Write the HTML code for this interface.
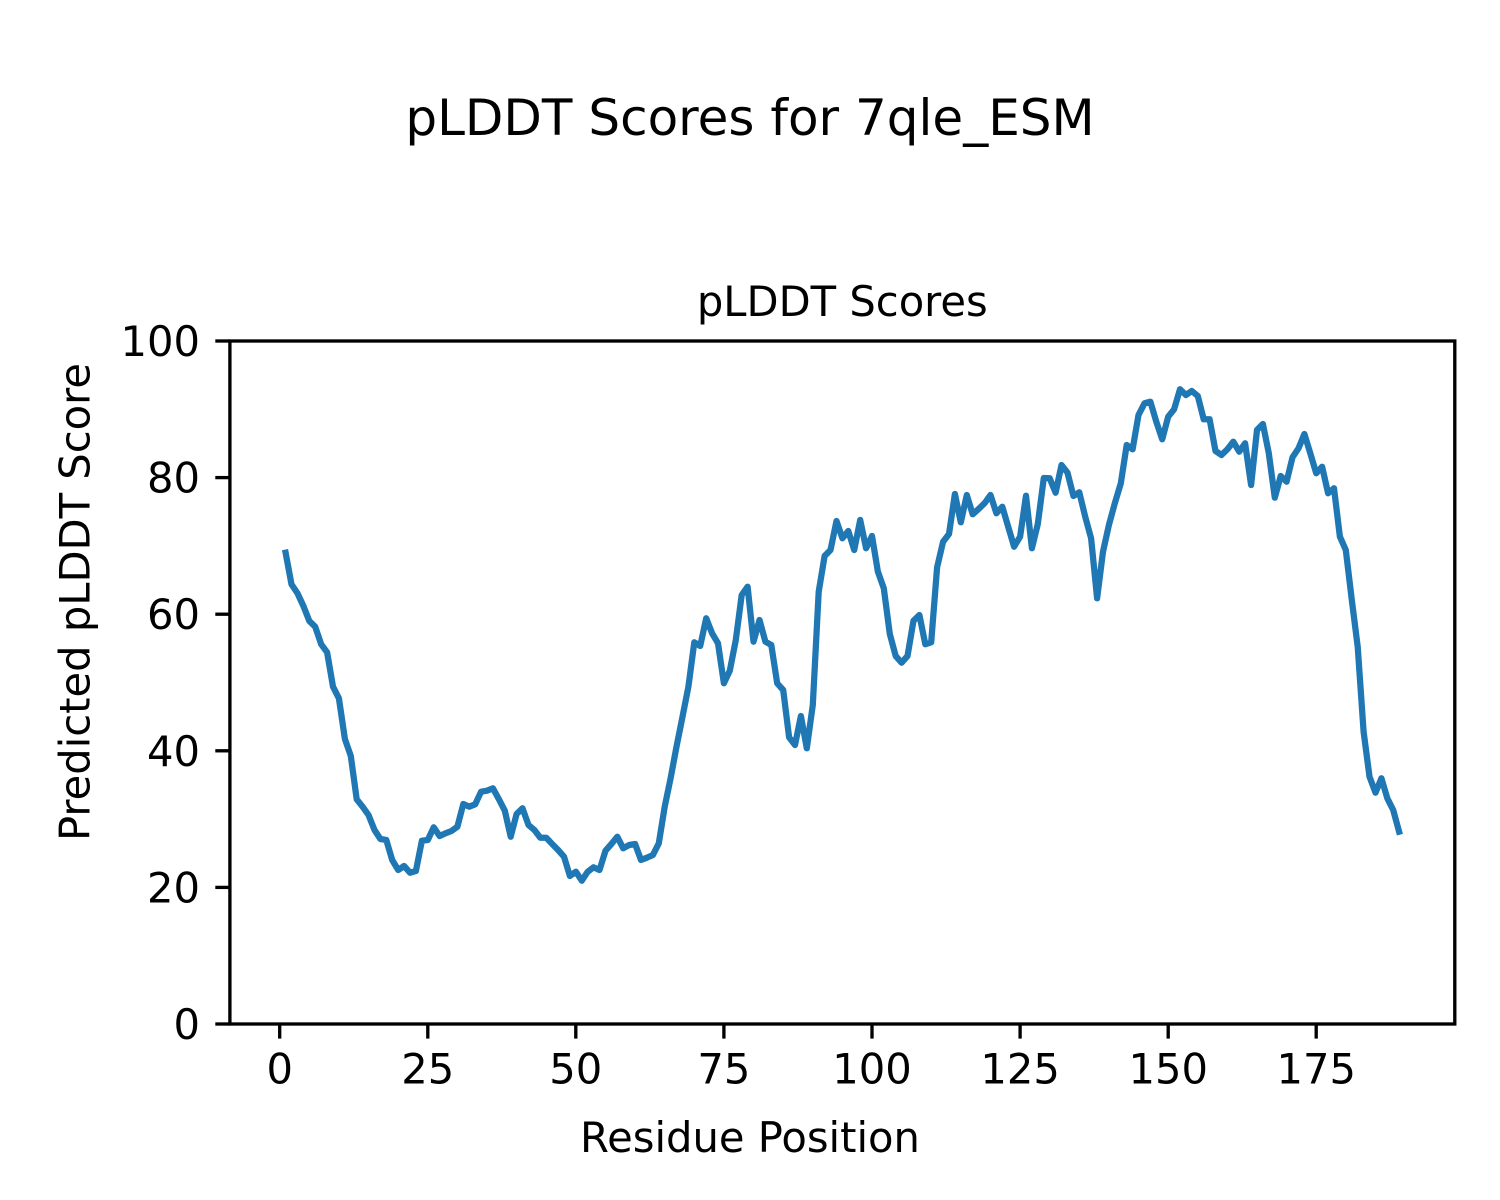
<!DOCTYPE html>
<html>
<head>
<meta charset="utf-8">
<style>
  html, body { margin: 0; padding: 0; background: #ffffff; }
  body { width: 1500px; height: 1200px; overflow: hidden; }
  svg { display: block; }
  text { font-family: "DejaVu Sans", "Liberation Sans", sans-serif; fill: #000; }
</style>
</head>
<body>
<svg width="1500" height="1200" viewBox="0 0 1500 1200" xmlns="http://www.w3.org/2000/svg">
  <rect x="0" y="0" width="1500" height="1200" fill="#ffffff"/>

  <!-- Suptitle -->
  <text x="750" y="135" font-size="50" text-anchor="middle">pLDDT Scores for 7qle_ESM</text>

  <!-- Axes title -->
  <text x="842.3" y="316" font-size="41.67" text-anchor="middle">pLDDT Scores</text>

  <!-- Data line -->
  <polyline fill="none" stroke="#1f77b4" stroke-width="6.25" stroke-linejoin="round" stroke-linecap="square"
    points="285.6,552.7 291.5,584.3 297.5,593.3 303.4,606 309.3,621 315.2,626.7 321.2,644.3 327.1,652.3 333.0,686.7 338.9,698.3
    344.9,739 350.8,756 356.7,799.3 362.6,806.7 368.5,815 374.5,830 380.4,839 386.3,840 392.2,860 398.2,870
    404.1,866 410.0,872.7 415.9,871 421.9,840.7 427.8,840 433.7,827.3 439.6,836 445.5,833.3 451.5,831 457.4,826.7
    463.3,804 469.2,806.7 475.2,804.3 481.1,791.7 487.0,790.7 492.9,788.3 498.9,799.3 504.8,810.7 510.7,836.7 516.6,814
    522.5,808.3 528.5,825 534.4,830 540.3,837.7 546.2,837.7 552.2,844 558.1,850 564.0,856.7 569.9,876 575.9,871.7
    581.8,880.7 587.7,871.7 593.6,867.3 599.5,870 605.5,850.7 611.4,844 617.3,836.7 623.2,848.3 629.2,845 635.1,844
    641.0,860 646.9,857.7 652.9,855 658.8,843.3 664.7,806.7 670.6,778.3 676.5,746.7 682.5,716.7 688.4,686.7 694.3,642.3
    700.2,646 706.2,618.3 712.1,633.3 718.0,643.3 723.9,683.3 729.8,670.7 735.8,640 741.7,595 747.6,586.7 753.5,641.7
    759.5,620 765.4,641.7 771.3,645 777.2,683.3 783.2,690 789.1,737.3 795.0,745 800.9,716 806.8,748.3 812.8,705
    818.7,591.7 824.6,556 830.5,550 836.5,521 842.4,538.3 848.3,531 854.2,550 860.2,520 866.1,548.3 872.0,536
    877.9,571.7 883.8,588.3 889.8,634 895.7,656 901.6,662.7 907.5,656 913.5,620.7 919.4,615 925.3,644.3 931.2,642.3
    937.1,567.3 943.1,541.7 949.0,534 954.9,494 960.8,522.3 966.8,495 972.7,514.3 978.6,509 984.5,503.3 990.5,495
    996.4,513.3 1002.3,506.7 1008.2,526.7 1014.1,546.7 1020.1,536.7 1026.0,495.7 1031.9,548.3 1037.8,524 1043.8,478 1049.7,478.3
    1055.6,492.7 1061.5,465 1067.5,472.7 1073.4,496 1079.3,492.3 1085.2,516.7 1091.1,538.3 1097.1,598.3 1103.0,551.7 1108.9,525
    1114.8,503.3 1120.8,483.3 1126.7,445 1132.6,449.3 1138.5,415 1144.5,403.3 1150.4,401.7 1156.3,421.7 1162.2,439.3 1168.2,416.7
    1174.1,409.3 1180.0,389.3 1185.9,395 1191.8,391 1197.8,396 1203.7,419.3 1209.6,419.3 1215.5,451 1221.5,455 1227.4,449.3
    1233.3,441.7 1239.2,451.7 1245.1,443.3 1251.1,485 1257.0,430 1262.9,424 1268.8,453.3 1274.8,497.7 1280.7,476 1286.6,481.7
    1292.5,457.3 1298.5,448.3 1304.4,434 1310.3,453.3 1316.2,473.3 1322.1,466.7 1328.1,493.3 1334.0,488.3 1339.9,536.7 1345.8,550
    1351.8,600 1357.7,646.7 1363.6,731.7 1369.5,776.7 1375.5,792.7 1381.4,778.3 1387.3,798.3 1393.2,810 1399.1,831.7"/>

  <!-- Spines -->
  <rect x="229.9" y="341" width="1224.9" height="683" fill="none" stroke="#000" stroke-width="3.33" stroke-linejoin="miter"/>

  <!-- Y ticks -->
  <g stroke="#000" stroke-width="3.33">
    <line x1="229.9" y1="1024" x2="215.3" y2="1024"/>
    <line x1="229.9" y1="887.4" x2="215.3" y2="887.4"/>
    <line x1="229.9" y1="750.8" x2="215.3" y2="750.8"/>
    <line x1="229.9" y1="614.2" x2="215.3" y2="614.2"/>
    <line x1="229.9" y1="477.6" x2="215.3" y2="477.6"/>
    <line x1="229.9" y1="341" x2="215.3" y2="341"/>
  </g>
  <g font-size="41.67" text-anchor="end">
    <text x="200" y="1039">0</text>
    <text x="200" y="902.4">20</text>
    <text x="200" y="765.8">40</text>
    <text x="200" y="629.2">60</text>
    <text x="200" y="492.6">80</text>
    <text x="200" y="356">100</text>
  </g>

  <!-- X ticks -->
  <g stroke="#000" stroke-width="3.33">
    <line x1="279.7" y1="1024" x2="279.7" y2="1038.6"/>
    <line x1="427.8" y1="1024" x2="427.8" y2="1038.6"/>
    <line x1="575.8" y1="1024" x2="575.8" y2="1038.6"/>
    <line x1="723.9" y1="1024" x2="723.9" y2="1038.6"/>
    <line x1="872.0" y1="1024" x2="872.0" y2="1038.6"/>
    <line x1="1020.1" y1="1024" x2="1020.1" y2="1038.6"/>
    <line x1="1168.2" y1="1024" x2="1168.2" y2="1038.6"/>
    <line x1="1316.2" y1="1024" x2="1316.2" y2="1038.6"/>
  </g>
  <g font-size="41.67" text-anchor="middle">
    <text x="279.7" y="1083.5">0</text>
    <text x="427.8" y="1083.5">25</text>
    <text x="575.8" y="1083.5">50</text>
    <text x="723.9" y="1083.5">75</text>
    <text x="872.0" y="1083.5">100</text>
    <text x="1020.1" y="1083.5">125</text>
    <text x="1168.2" y="1083.5">150</text>
    <text x="1316.2" y="1083.5">175</text>
  </g>

  <!-- Axis labels -->
  <text x="750" y="1152" font-size="41.67" text-anchor="middle">Residue Position</text>
  <text x="0" y="0" font-size="41.67" text-anchor="middle" transform="translate(89.5,602) rotate(-90)">Predicted pLDDT Score</text>
</svg>
</body>
</html>
